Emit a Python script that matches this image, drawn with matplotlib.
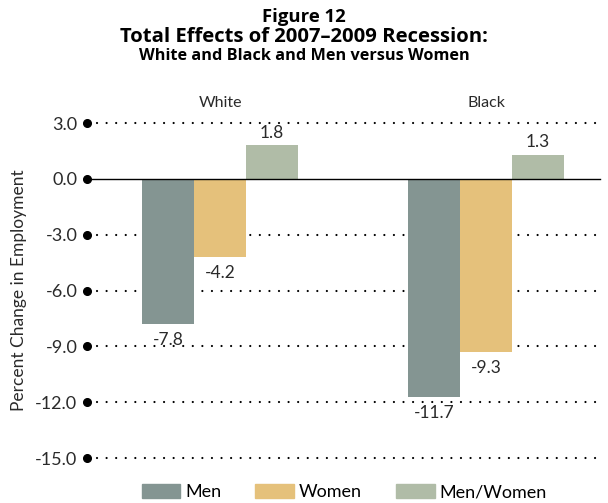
import matplotlib.pyplot as plt
import numpy as np
from matplotlib.patches import Patch

plt.rcParams["font.family"] = ["Lato", "DejaVu Sans"]

# Data
groups = ["White", "Black"]
series = ["Men", "Women", "Men/Women"]
men = [-7.8, -11.7]
women = [-4.2, -9.3]
ratio = [1.8, 1.3]
yticks = [3.0, 0.0, -3.0, -6.0, -9.0, -12.0, -15.0]

colors = ["#849592", "#e5c17b", "#b0bca7"]
txt = "#2a2a2a"

fig = plt.figure(figsize=(6.08, 5.03), dpi=100)
ax = fig.add_axes([87 / 608, 1 - 458 / 503, (602 - 87) / 608, (458 - 123) / 503])

x = np.arange(len(groups))
w = 0.1955
xr = 1.43

# dotted grid lines + tick dots
for yv in yticks:
    if yv == 0:
        ax.plot([-0.5, xr], [0, 0], color="black", lw=1.0, zorder=3, clip_on=False)
    else:
        ax.plot([-0.5 + 10 / 266, xr], [yv, yv], color="black", lw=1.6,
                linestyle=(0, (0.01, 4.3)), dash_capstyle="round", zorder=1,
                clip_on=False)
    ax.plot(-0.5, yv, "o", color="black", ms=5.5, clip_on=False, zorder=4)

for i, (vals, c) in enumerate(zip([men, women, ratio], colors)):
    pos = x + (i - 1) * w
    ax.bar(pos, vals, width=w, color=c, zorder=2)
    for px, v in zip(pos, vals):
        if v < 0:
            ax.annotate(f"-{abs(v):.1f}", (px, v), xytext=(0, -6), textcoords="offset points",
                        ha="center", va="top", fontsize=12.5, color=txt)
        else:
            ax.annotate(f"{v:.1f}", (px, v), xytext=(0, 3), textcoords="offset points",
                        ha="center", va="bottom", fontsize=12.5, color=txt)

for xi, g in zip(x, groups):
    ax.text(xi, 4.1, g, ha="center", va="center", fontsize=11.5, color=txt)

ax.set_xlim(-0.5, 1.436)
ax.set_ylim(-15, 3)
ax.set_yticks(yticks)
ax.set_yticklabels([f"{v:.1f}" if v >= 0 else f"-{abs(v):.1f}" for v in yticks],
                   fontsize=13, color=txt)
ax.tick_params(axis="y", length=0, pad=7)
ax.set_xticks([])
for s in ax.spines.values():
    s.set_visible(False)

ax.set_ylabel("Percent Change in Employment", fontsize=12.5, color=txt, labelpad=6)

fig.text(0.5, 1 - 17 / 503, "Figure 12", ha="center", va="center",
         fontsize=13.3, fontweight="bold", family="Open Sans")
fig.text(0.5, 1 - 37 / 503, "Total Effects of 2007\u20132009 Recession:", ha="center",
         va="center", fontsize=14.6, fontweight="bold", family="Open Sans")
fig.text(0.5, 1 - 56 / 503, "White and Black and Men versus Women", ha="center",
         va="center", fontsize=11.7, fontweight="bold", family="Open Sans")

handles = [Patch(color=c, label=s) for c, s in zip(colors, series)]
fig.legend(handles=handles, loc="center", bbox_to_anchor=(0.566, 1 - 492 / 503), ncol=3,
           frameon=False, handlelength=2.15, handleheight=0.85, columnspacing=1.9,
           handletextpad=0.25, prop={"size": 13})

fig.savefig("out.png", dpi=100)
